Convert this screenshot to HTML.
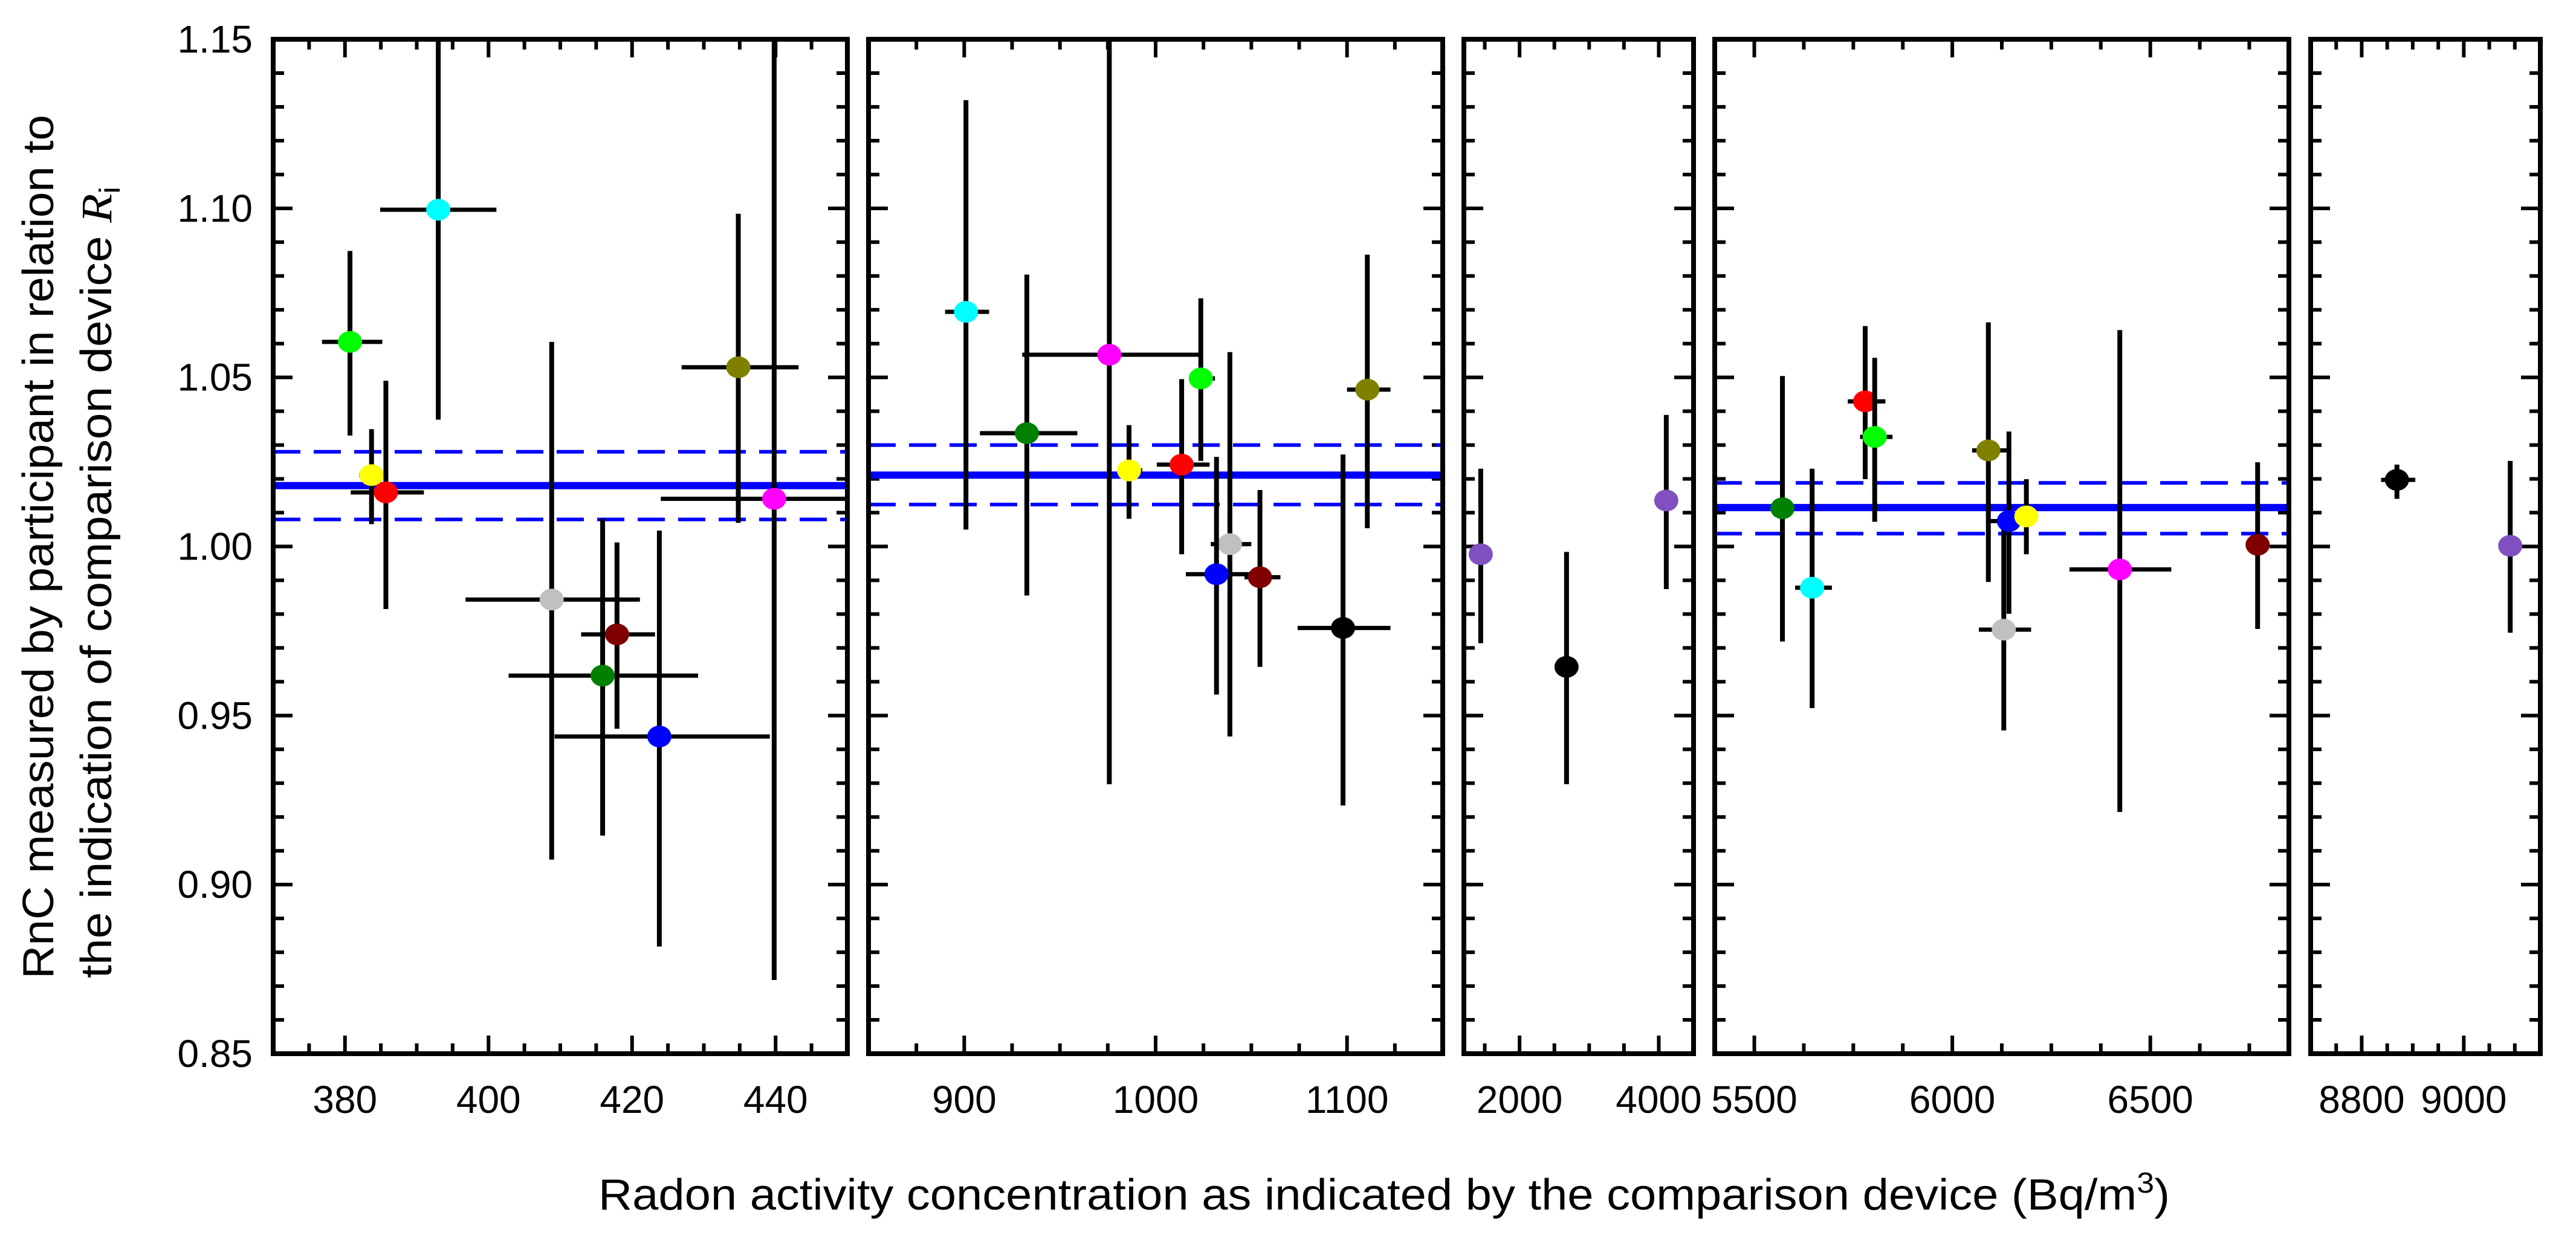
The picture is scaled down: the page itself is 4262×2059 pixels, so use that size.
<!DOCTYPE html>
<html><head><meta charset="utf-8">
<style>html,body{margin:0;padding:0;background:#fff}svg{display:block}</style>
</head><body>
<svg id="chart" width="4262" height="2059" viewBox="0 0 4262 2059" xmlns="http://www.w3.org/2000/svg" font-family="'Liberation Sans', sans-serif">
<g id="plot"></g>
<text transform="translate(88,905) rotate(-90)" text-anchor="middle" font-size="72" textLength="1430" lengthAdjust="spacingAndGlyphs">RnC measured by participant in relation to</text>
<text transform="translate(184,964) rotate(-90)" text-anchor="middle" font-size="72" textLength="1310" lengthAdjust="spacingAndGlyphs">the indication of comparison device <tspan font-family="'Liberation Serif', serif" font-style="italic">R</tspan><tspan font-size="48" dy="14">i</tspan></text>
<text x="2290" y="2002" text-anchor="middle" font-size="72" textLength="2600" lengthAdjust="spacingAndGlyphs">Radon activity concentration as indicated by the comparison device (Bq/m<tspan font-size="48" dy="-28">3</tspan><tspan dy="28">)</tspan></text>
</svg>
<script>
// ---- data ----
const panelRanges = [[370,450],[850,1150],[1200,4500],[5400,6850],[8700,9150]];
const panelMajorTicks = [[380,400,420,440],[900,1000,1100],[2000,4000],[5500,6000,6500],[8800,9000]];
const panelMinorStep = [5,25,500,125,50];
const yTickLabels = ["0.85","0.90","0.95","1.00","1.05","1.10","1.15"];
const yTickValues = [0.85,0.90,0.95,1.00,1.05,1.10,1.15];
const meanValues = [1.018,1.0211,null,1.0115,null];
const meanUpper = [1.028,1.030,null,1.0188,null];
const meanLower = [1.008,1.0124,null,1.0038,null];
// points: panel index, colour name, x, y, x-low, x-high, y-low, y-high
const ptPanel = [0,0,0,0,0,0,0,0,0,0, 1,1,1,1,1,1,1,1,1,1,1, 2,2,2, 3,3,3,3,3,3,3,3,3,3, 4,4];
const ptColor = ["lime","cyan","yellow","red","silver","maroon","green","blue","olive","magenta",
 "cyan","green","magenta","yellow","red","lime","silver","blue","maroon","black","olive",
 "purple","black","purple",
 "green","cyan","red","lime","olive","silver","blue","yellow","magenta","maroon",
 "black","purple"];
const ptX = [380.7,393.0,383.7,385.7,408.8,417.9,415.9,423.8,434.8,439.8,
 900.9,932.7,975.8,986.1,1013.6,1023.6,1038.8,1031.8,1054.5,1097.9,1110.6,
 1442,2675,4108,
 5571,5646,5780,5804,6091,6130,6143,6187,6423,6771,
 8869,9091];
const ptY = [1.0605,1.0996,1.0211,1.016,0.9843,0.974,0.9618,0.9438,1.053,1.0141,
 1.0694,1.0335,1.0567,1.0225,1.0242,1.0497,1.0007,0.9918,0.9909,0.9759,1.0464,
 0.9977,0.9644,1.0136,
 1.0113,0.9878,1.0429,1.0324,1.0284,0.9754,1.0075,1.0089,0.9932,1.0005,
 1.0197,1.0002];
const ptXlo = [376.8,384.9,382.0,380.8,396.8,412.9,402.8,409.2,426.9,424.0,
 890,908.2,930.3,980,1000.6,1018,1028.8,1015.8,1046.4,1074.2,1100,
 null,null,null,
 5549,5603,5736,5767,6050,6067,6091,6163,6296,6741,
 8838,null];
const ptXhi = [385.2,401.1,385.5,391.0,421.1,423.2,429.2,439.2,443.2,455,
 913,959.1,1023.6,993,1028.2,1031,1050,1049.1,1065.2,1122.7,1122.7,
 null,null,null,
 5596,5696,5831,5849,6141,6199,6199,6213,6553,6801,
 8905,null];
const ptYlo = [1.0328,1.0375,1.0066,0.9815,0.9074,0.9461,0.9145,0.8817,1.007,0.8718,
 1.005,0.9855,0.9297,1.0082,0.9977,1.0253,0.9438,0.9562,0.9644,0.9234,1.0054,
 0.9714,0.9297,0.9874,
 0.9719,0.9522,1.0199,1.0073,0.9895,0.9456,0.9801,0.9977,0.9215,0.9756,
 1.0141,0.9745];
const ptYhi = [1.0874,1.16,1.0347,1.049,1.0605,1.0012,1.0082,1.0047,1.0984,1.16,
 1.132,1.0804,1.16,1.0359,1.0495,1.0734,1.0575,1.0265,1.0167,1.0272,1.0863,
 1.023,0.9984,1.0389,
 1.0504,1.023,1.0652,1.0558,1.0663,1.0066,1.034,1.0199,1.064,1.0249,
 1.0242,1.0253];
// ---- layout ----
const panelX0 = [452,1437,2422,2837,3823];
const panelW = [950,950,380,950,380];
const TOP=65, BOT=1744, Y0=0.85, Y1=1.15;
const colorMap = {lime:"#00ff00",cyan:"#00ffff",yellow:"#ffff00",red:"#ff0000",silver:"#c0c0c0",maroon:"#800000",green:"#008000",blue:"#0000ff",olive:"#808000",magenta:"#ff00ff",black:"#000000",purple:"#8050c0"};
const NS="http://www.w3.org/2000/svg";
const root=document.getElementById('plot');
function yS(v){return BOT-(v-Y0)/(Y1-Y0)*(BOT-TOP);}
function xS(p,v){const r=panelRanges[p];return panelX0[p]+(v-r[0])/(r[1]-r[0])*panelW[p];}
function mk(tag,attrs,parent){const e=document.createElementNS(NS,tag);for(const k in attrs)e.setAttribute(k,attrs[k]);(parent||root).appendChild(e);return e;}
for(let p=0;p<5;p++){
  const g=mk('g',{});
  
  
  const cp=mk('clipPath',{id:'cp'+p},g);
  mk('rect',{x:panelX0[p],y:TOP,width:panelW[p],height:BOT-TOP},cp);
  const r=panelRanges[p];
  const x0=panelX0[p], x1=x0+panelW[p];
  const st=panelMinorStep[p];
  for(let v=Math.ceil(r[0]/st)*st; v<=r[1]+1e-9; v+=st){
    const X=xS(p,v); if(X<x0+4||X>x1-4) continue;
    const maj=panelMajorTicks[p].some(m=>Math.abs(m-v)<1e-6);
    const L=maj?30:17;
    const t1=mk('line',{x1:X,x2:X,y1:BOT,y2:BOT-L,stroke:'#000','stroke-width':6},g);
     
    const t2=mk('line',{x1:X,x2:X,y1:TOP,y2:TOP+L,stroke:'#000','stroke-width':6},g);
     
  }
  panelMajorTicks[p].forEach(m=>{
    const t=mk('text',{x:xS(p,m),y:1842,'text-anchor':'middle','font-size':64},g);
    t.textContent=m;
     
  });
  for(let i=1;i<30;i++){
    const v=Y0+i*0.01, Y=yS(v);
    const maj=(i%5===0);
    const L=maj?32:18;
    const a=mk('line',{x1:x0,x2:x0+L,y1:Y,y2:Y,stroke:'#000','stroke-width':6},g);
     
    const b=mk('line',{x1:x1,x2:x1-L,y1:Y,y2:Y,stroke:'#000','stroke-width':6},g);
     
  }
  if(meanValues[p]!==null){
    const m=mk('line',{x1:x0,x2:x1,y1:yS(meanValues[p]),y2:yS(meanValues[p]),stroke:'#0000ff','stroke-width':12},g);
     
    [meanUpper[p],meanLower[p]].forEach(v=>{
      const d=mk('line',{x1:x0,x2:x1,y1:yS(v),y2:yS(v),stroke:'#0000ff','stroke-width':6,'stroke-dasharray':'45 22'},g);
       
    });
  }
  const pg=mk('g',{'clip-path':'url(#cp'+p+')'},g);
  for(let i=0;i<ptPanel.length;i++){
    if(ptPanel[i]!==p) continue;
    const X=xS(p,ptX[i]), Y=yS(ptY[i]);
    const v=mk('line',{x1:X,x2:X,y1:yS(ptYlo[i]),y2:yS(ptYhi[i]),stroke:'#000','stroke-width':8},pg);
     
    if(ptXlo[i]!==null){
      const h=mk('line',{x1:xS(p,ptXlo[i]),x2:xS(p,ptXhi[i]),y1:Y,y2:Y,stroke:'#000','stroke-width':7},pg);
       
    }
    const c=mk('ellipse',{cx:X,cy:Y,rx:20,ry:18,fill:colorMap[ptColor[i]]},pg);
     
  }
  const f=mk('rect',{x:x0,y:TOP,width:panelW[p],height:BOT-TOP,fill:'none',stroke:'#000','stroke-width':8},g);
   
}
yTickValues.forEach((v,i)=>{
  const t=mk('text',{x:418,y:yS(v)+22,'text-anchor':'end','font-size':64});
  t.textContent=yTickLabels[i];
   
});
</script>
</body></html>
